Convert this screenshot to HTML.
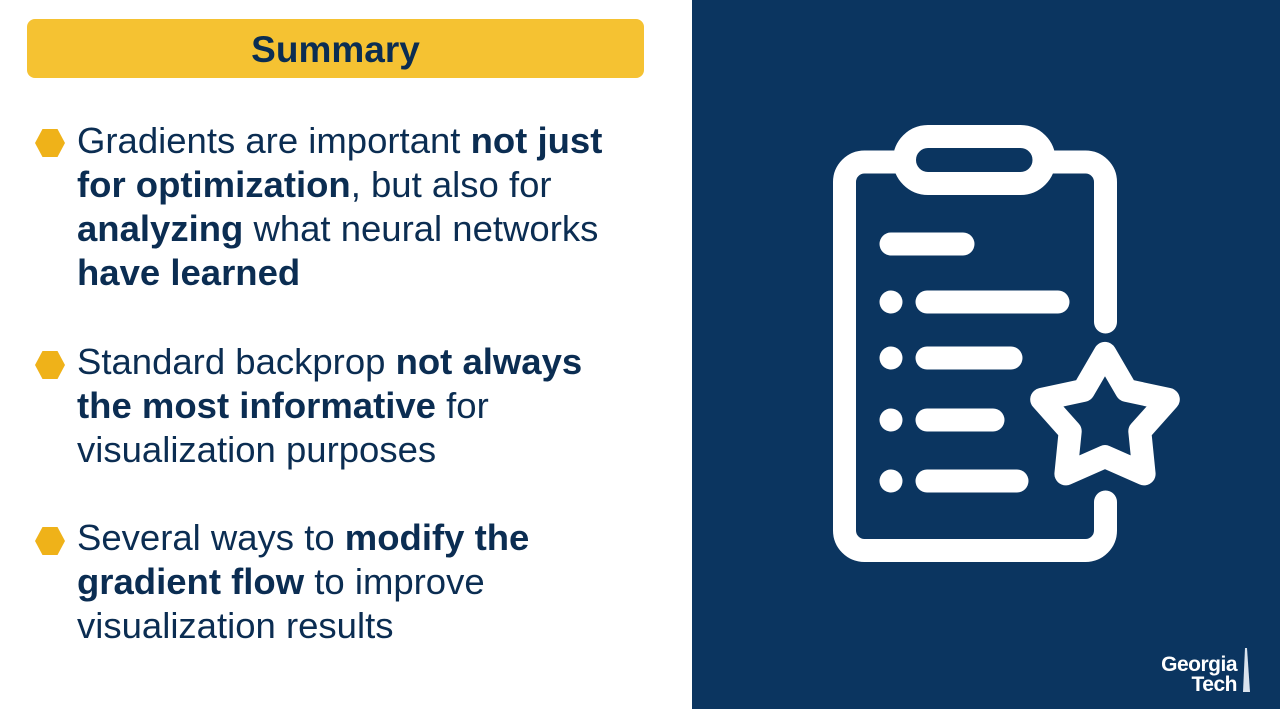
<!DOCTYPE html>
<html><head><meta charset="utf-8"><style>
*{margin:0;padding:0}
body{width:1280px;height:709px;position:relative;background:#fff;font-family:"Liberation Sans",Arial,sans-serif;overflow:hidden}
#right{position:absolute;left:692px;top:0;width:588px;height:709px;background:#0b3560}
#hdr{position:absolute;left:27px;top:19px;width:617px;height:59px;background:#f5c232;border-radius:8px;text-align:center;font-weight:bold;font-size:37px;line-height:62px;color:#0b2d52}
.b{position:absolute;left:77px;width:545px;font-size:36.5px;line-height:44px;color:#0b2d52}
.hx{position:absolute;left:35px;width:30px;height:28px;background:#efb219;clip-path:polygon(25% 0,75% 0,100% 50%,75% 100%,25% 100%,0 50%)}
</style></head><body>
<div id="hdr">Summary</div>
<div class="hx" style="top:129px"></div>
<div class="b" style="top:119px">Gradients are important <b>not just for optimization</b>, but also for <b>analyzing</b> what neural networks <b>have learned</b></div>
<div class="hx" style="top:351px"></div>
<div class="b" style="top:340px">Standard backprop <b>not always the most informative</b> for visualization purposes</div>
<div class="hx" style="top:527px"></div>
<div class="b" style="top:516px">Several ways to <b>modify the gradient flow</b> to improve visualization results</div>
<div id="right"></div>
<svg style="position:absolute;left:0;top:0" width="1280" height="709">
<g fill="none" stroke="#fff" stroke-width="23" stroke-linecap="round" stroke-linejoin="round">
<path d="M1105.5 322 V182 a20 20 0 0 0 -20 -20 H864.5 a20 20 0 0 0 -20 20 V530.5 a20 20 0 0 0 20 20 H1085.5 a20 20 0 0 0 20 -20 V502"/>
<rect x="904.5" y="136.5" width="139.5" height="47" rx="23.5" fill="#0b3560"/>
<path d="M891 244 H963 M927 302 H1058 M927 358 H1011 M927 420 H993 M927 481 H1017"/>
<polygon points="1105,353.4 1126.5,390.4 1168.3,399.4 1139.8,431.3 1144.1,473.9 1105,456.6 1065.9,473.9 1070.2,431.3 1041.7,399.4 1083.5,390.4"/>
</g>
<g fill="#fff"><circle cx="891" cy="302" r="11.5"/><circle cx="891" cy="358" r="11.5"/><circle cx="891" cy="420" r="11.5"/><circle cx="891" cy="481" r="11.5"/></g>
<text x="1237" y="671" fill="#fff" font-family="Liberation Sans,Arial,sans-serif" font-weight="bold" font-size="21" text-anchor="end" letter-spacing="-0.5">Georgia</text>
<text x="1237" y="691" fill="#fff" font-family="Liberation Sans,Arial,sans-serif" font-weight="bold" font-size="21" text-anchor="end" letter-spacing="-0.5">Tech</text>
<path d="M1245 648 L1243 692 H1250 L1247 648 Z" fill="#dbe4ee"/>
</svg>
</body></html>
